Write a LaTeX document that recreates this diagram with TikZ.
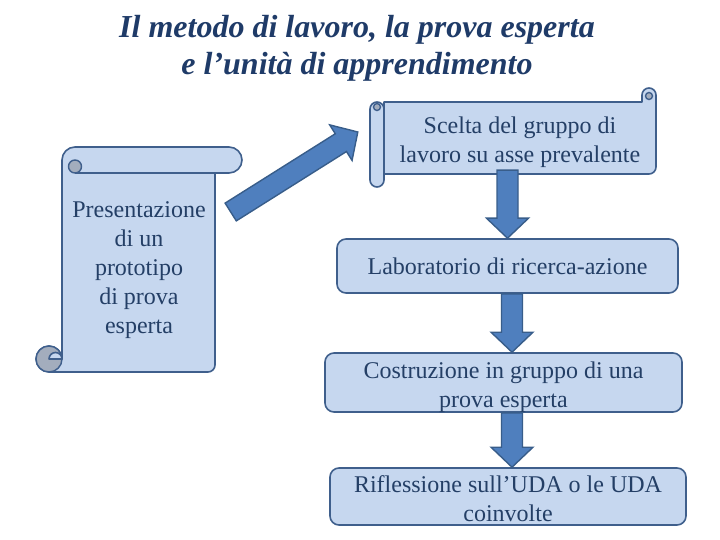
\documentclass[tikz,border=0pt]{standalone}
\usepackage{fontspec}
\setmainfont{Liberation Serif}
\usetikzlibrary{calc, positioning}
\definecolor{boxfill}{HTML}{C6D7EF}
\definecolor{boxline}{HTML}{3F5F8C}
\definecolor{arrowfill}{HTML}{4F7FBE}
\definecolor{arrowline}{HTML}{385D8A}
\definecolor{curlgray}{HTML}{A3ADBD}
\definecolor{textblue}{HTML}{243F66}
\definecolor{titleblue}{HTML}{1F3B68}
\tikzset{
  box/.style={draw=boxline, fill=boxfill, line width=1.6pt, rounded corners=9pt, align=center, inner sep=0pt, text=textblue},
  twoline/.style={text height=49pt, text depth=0pt},
  scrolltext/.style={align=center, inner sep=0pt, text=textblue},
  scroll/.style={draw=boxline, fill=boxfill, line width=1.6pt, line join=round},
  curl/.style={draw=boxline, fill=curlgray, line width=1.4pt},
  edge/.style={draw=boxline, line width=1.6pt},
  title/.style={align=center, text=titleblue, font=\fontsize{32}{37}\selectfont\bfseries\itshape},
  fatarrow/.style={draw=arrowline, fill=arrowfill, line width=1.4pt, line join=miter,
    to path={
      ($(\tikztostart)!10.5pt!90:(\tikztotarget)$)
      -- ($($(\tikztotarget)!20pt!(\tikztostart)$)!10.5pt!90:(\tikztotarget)$)
      -- ($($(\tikztotarget)!20pt!(\tikztostart)$)!21pt!90:(\tikztotarget)$)
      -- (\tikztotarget)
      -- ($($(\tikztotarget)!20pt!(\tikztostart)$)!21pt!-90:(\tikztotarget)$)
      -- ($($(\tikztotarget)!20pt!(\tikztostart)$)!10.5pt!-90:(\tikztotarget)$)
      -- ($(\tikztostart)!10.5pt!-90:(\tikztotarget)$) -- cycle}},
  every node/.style={font=\fontsize{24}{29}\selectfont}
}
\begin{document}
\begin{tikzpicture}[x=1pt, y=-1pt]
    \useasboundingbox (0,0) rectangle (720,540);

    % vertical scroll (left)
    \draw[scroll] (62,160) arc[start angle=180, end angle=270, radius=13]
      -- (229,147) arc[start angle=270, end angle=450, radius=13]
      -- (215,173) -- (215,365) arc[start angle=0, end angle=90, radius=7]
      -- (49,372) arc[start angle=90, end angle=360, radius=13] -- cycle;
    \draw[edge] (215,173) -- (75,173);
    \draw[curl] (75,166.5) circle[radius=6.5];
    \draw[curl] (49,359) circle[radius=13];
    \draw[scroll] (49,359) arc[start angle=180, end angle=360, radius=6.5] -- cycle;

    % horizontal scroll (top right)
    \draw[scroll] (384,102) -- (642,102) -- (642,95) arc[start angle=180, end angle=360, radius=7]
      -- (656,167) arc[start angle=0, end angle=90, radius=7]
      -- (384,174) -- (384,180) arc[start angle=0, end angle=180, radius=7]
      -- (370,109) arc[start angle=180, end angle=360, radius=7] -- cycle;
    \draw[edge] (384,109) -- (384,174);
    \draw[curl] (377,107) circle[radius=3.5];
    \draw[curl] (649,96) circle[radius=3.5];

    \node[title] (title) at (357,48) {Il metodo di lavoro, la prova esperta\\e l'unità di apprendimento};
    \node[scrolltext, minimum width=153pt] (present) at (139,270.5) {Presentazione\\di un\\prototipo\\di prova\\esperta};
    \node[scrolltext, twoline, minimum width=272pt, minimum height=72pt] (scelta) at (520,138) {Scelta del gruppo di\\lavoro su asse prevalente};
    \node[box, minimum width=341pt, minimum height=54pt] (lab) at (507.5,266) {Laboratorio di ricerca-azione};
    \node[box, twoline, minimum width=357pt, minimum height=59pt] (costr) at (503.5,382.5) {Costruzione in gruppo di una\\prova esperta};
    \node[box, twoline, minimum width=356pt, minimum height=57pt] (rifl) at (508,496.5) {Riflessione sull’UDA o le UDA\\coinvolte};

    \coordinate (diagfrom) at ($(present.east)+(15,-58.5)$);
    \coordinate (diagto) at ($(scelta.west)+(-26,-6)$);
    \coordinate (axis) at (512,0);

    \draw[fatarrow] (diagfrom) to (diagto);
    \draw[fatarrow] ($(scelta.south -| lab.north)+(0,-4)$) to (lab.north);
    \draw[fatarrow] (lab.south -| axis) to (costr.north -| axis);
    \draw[fatarrow] (costr.south -| axis) to (rifl.north -| axis);
\end{tikzpicture}
\end{document}
